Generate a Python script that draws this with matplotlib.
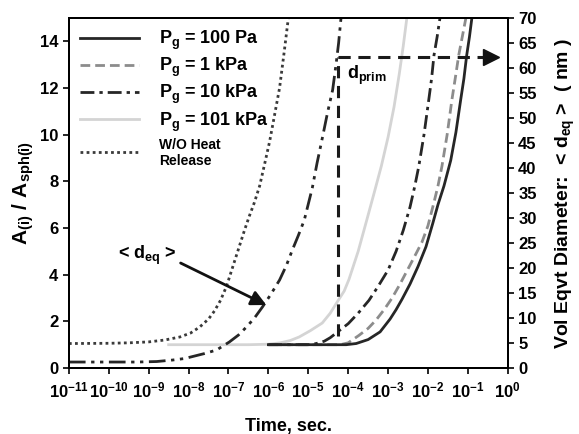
import numpy as np
import matplotlib
matplotlib.use('Agg')
import matplotlib.pyplot as plt

plt.rcParams['font.family'] = ['Liberation Sans', 'DejaVu Sans']
plt.rcParams['font.weight'] = 'bold'
plt.rcParams['axes.labelweight'] = 'bold'
plt.rcParams['mathtext.fontset'] = 'custom'
plt.rcParams['mathtext.rm'] = 'Liberation Sans:bold'
plt.rcParams['mathtext.it'] = 'Liberation Sans:bold'
plt.rcParams['mathtext.bf'] = 'Liberation Sans:bold'
plt.rcParams['axes.linewidth'] = 1.4

# Flaechenverhaeltnis A(i)/A_sph(i) ueber log10(Zeit in s)
logt_100pa = [-6.0, -4.05, -3.8, -3.5, -3.2, -2.95, -2.8, -2.65, -2.45, -2.25, -2.05, -1.88,
              -1.75, -1.6, -1.43, -1.3, -1.18, -1.1, -1.03, -0.96, -0.9]
ratio_100pa = [1.0, 1.0, 1.05, 1.22, 1.55, 2.1, 2.5, 2.95, 3.6, 4.35, 5.2, 6.2,
               7.0, 7.8, 8.9, 10.1, 11.5, 12.4, 13.4, 14.2, 15.0]

logt_1kpa = [-6.0, -4.2, -4.0, -3.73, -3.5, -3.3, -3.1, -2.9, -2.7, -2.5, -2.3, -2.15, -2.0,
             -1.85, -1.75, -1.65, -1.52, -1.4, -1.3, -1.23, -1.14, -1.05]
ratio_1kpa = [1.0, 1.0, 1.08, 1.4, 1.7, 2.06, 2.5, 3.0, 3.6, 4.25, 4.9, 5.4, 6.1,
              7.1, 7.8, 8.65, 10.0, 11.5, 12.6, 13.4, 14.2, 15.0]

logt_10kpa = [-6.0, -5.0, -4.8, -4.6, -4.45, -4.3, -4.15, -4.0, -3.75, -3.48, -3.25, -3.0,
              -2.8, -2.62, -2.45, -2.33, -2.23, -2.1, -1.98, -1.91, -1.85, -1.77, -1.7]
ratio_10kpa = [1.0, 1.0, 1.05, 1.15, 1.3, 1.5, 1.7, 1.9, 2.35, 2.9, 3.5, 4.2,
               5.0, 5.9, 6.9, 7.8, 8.65, 10.0, 11.5, 12.4, 13.4, 14.2, 15.0]

logt_101kpa = [-8.5, -6.5, -6.0, -5.7, -5.45, -5.23, -4.95, -4.65, -4.45, -4.25, -4.1, -3.98,
               -3.75, -3.53, -3.35, -3.17, -3.0, -2.85, -2.72, -2.62, -2.53]
ratio_101kpa = [1.0, 1.0, 1.02, 1.08, 1.18, 1.33, 1.6, 1.93, 2.35, 2.9, 3.3, 3.8,
                5.0, 6.37, 7.5, 8.65, 9.9, 11.2, 12.6, 13.8, 15.0]

logt_noheat = [-11.0, -10.0, -9.5, -9.0, -8.6, -8.22, -7.95, -7.72, -7.5, -7.35, -7.2, -7.05,
               -6.9, -6.75, -6.6, -6.48, -6.35, -6.22, -6.1, -5.97, -5.85, -5.72, -5.6, -5.5]
ratio_noheat = [1.05, 1.06, 1.08, 1.12, 1.2, 1.33, 1.5, 1.76, 2.1, 2.45, 2.9, 3.5,
                4.3, 5.1, 5.9, 6.5, 7.1, 7.8, 8.7, 9.7, 10.8, 12.0, 13.6, 15.0]

# volumenaequivalenter Durchmesser <d_eq> in nm
logt_deq = [-11.0, -9.3, -8.8, -8.4, -8.1, -7.9, -7.6, -7.3, -6.98, -6.75, -6.55, -6.35,
            -6.15, -5.95, -5.72, -5.55, -5.4, -5.25, -5.1, -4.9, -4.78, -4.64, -4.52, -4.39,
            -4.3, -4.24, -4.18]
deq_nm = [1.2, 1.2, 1.3, 1.6, 1.9, 2.3, 2.9, 3.6, 5.2, 6.6, 8.2, 10.0,
          12.2, 14.6, 17.6, 20.5, 23.6, 26.5, 29.6, 36.0, 41.0, 46.3, 51.0, 55.6,
          61.0, 65.0, 70.0]

# Primaerpartikeldurchmesser d_prim
t_prim = 5.6e-5
d_prim = 62.2
d_prim_start = 6.4
t_prim_arrow = 0.376

fig = plt.figure(figsize=(5.79, 4.34), dpi=100)
ax = fig.add_subplot(111)
fig.subplots_adjust(left=0.119, right=0.877, bottom=0.152, top=0.9585)
ax.set_xscale('log')

l101, = ax.plot(10**np.array(logt_101kpa), ratio_101kpa, color='#d4d4d4', lw=2.0)
lno, = ax.plot(10**np.array(logt_noheat), ratio_noheat, color='#3a3a3a', lw=2.0,
               linestyle=(0, (1, 1.2)))
l1, = ax.plot(10**np.array(logt_1kpa), ratio_1kpa, color='#8c8c8c', lw=2.0,
              linestyle=(0, (3.5, 1.8)))
l10, = ax.plot(10**np.array(logt_10kpa), ratio_10kpa, color='#262626', lw=2.0,
               linestyle=(0, (5, 1.8, 1.2, 1.8)))
l100, = ax.plot(10**np.array(logt_100pa), ratio_100pa, color='#262626', lw=2.0)

leg = ax.legend([l100, l1, l10, l101, lno],
                [r'$\mathregular{P_g}$ = 100 Pa', r'$\mathregular{P_g}$ = 1 kPa',
                 r'$\mathregular{P_g}$ = 10 kPa', r'$\mathregular{P_g}$ = 101 kPa',
                 'W/O Heat\nRelease'],
                loc='upper left', frameon=False, fontsize=13, handlelength=3.3,
                handletextpad=1.1, labelspacing=0.22, borderaxespad=0.2)
leg.get_texts()[-1].set_fontsize(10)

ax2 = ax.twinx()
ax2.plot(10**np.array(logt_deq), deq_nm, color='#262626', lw=2.0,
         linestyle=(0, (6, 2, 1.2, 2, 1.2, 2)))
ax2.set_ylim(0, 70)
ax2.set_yticks(np.arange(0, 71, 5))
ax2.tick_params(axis='y', direction='out', length=4, width=1.2, labelsize=12)
ax2.set_ylabel(r'Vol Eqvt Diameter:  < $\mathregular{d_{eq}}$ >  ( nm )', fontsize=14, labelpad=12)

ax.set_xlim(1e-11, 1)
ax.set_ylim(0, 15)
ax.set_yticks(np.arange(0, 15, 2))
ax.set_xticks(10.0**np.arange(-11, 1))
ax.set_xticklabels([r'$10^{%d}$' % k for k in range(-11, 1)])
ax.minorticks_off()
ax.tick_params(axis='both', direction='out', length=4, width=1.2, labelsize=12)
ax.tick_params(axis='x', pad=5)
ax.set_xlabel('Time, sec.', fontsize=13, labelpad=13)
ax.set_ylabel(r'$\mathregular{A_{(i)}\ /\ A_{sph(i)}}$', fontsize=15, labelpad=3)

# d_prim: senkrechte und waagrechte Hilfslinie mit Pfeil zur rechten Achse
ax2.plot([t_prim, t_prim], [d_prim_start, d_prim], color='#1a1a1a', lw=2.2,
         linestyle=(0, (4, 2.5)))
ax2.plot([t_prim, t_prim_arrow], [d_prim, d_prim], color='#1a1a1a', lw=2.2,
         linestyle=(0, (4, 2.5)))
ax2.plot([t_prim_arrow], [d_prim], marker='>', ms=12, color='#111111', clip_on=False)
ax2.text(1.0e-4 * 0.93, 58.6, r'$\mathregular{d_{prim}}$', fontsize=13, va='center', ha='left')

# Beschriftung der d_eq-Kurve
ax2.text(10**-9.03, 22.6, r'< $\mathregular{d_{eq}}$ >', fontsize=13, ha='center', va='center')
ax2.annotate('', xy=(10**-6.05, 12.6), xytext=(10**-8.2, 21.0),
             arrowprops=dict(arrowstyle='-|>,head_length=0.9,head_width=0.45', color='#111111',
                             lw=2.0, shrinkA=0, shrinkB=0))

plt.savefig('out.png', dpi=100)
